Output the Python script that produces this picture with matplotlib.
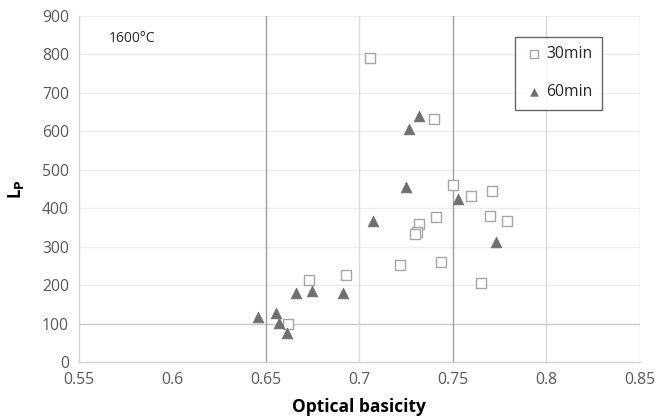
import matplotlib
matplotlib.use("Agg")
import matplotlib.pyplot as plt

plt.rcParams['font.family'] = ['Open Sans', 'DejaVu Sans']

x_30 = [0.706, 0.740, 0.750, 0.760, 0.771, 0.741, 0.732, 0.731, 0.730, 0.770, 0.779,
        0.722, 0.744, 0.765, 0.673, 0.693, 0.662]
y_30 = [790, 631, 460, 432, 444, 378, 360, 339, 332, 379, 366,
        252, 259, 206, 213, 226, 98]
x_60 = [0.732, 0.7265, 0.725, 0.753, 0.7075, 0.773, 0.6663, 0.6747, 0.6914,
        0.6462, 0.6558, 0.6572, 0.6615]
y_60 = [640, 606, 456, 425, 366, 311, 179, 185, 180, 116, 127, 102, 76]

xticks = [0.55, 0.6, 0.65, 0.7, 0.75, 0.8, 0.85]
xtick_labels = ['0.55', '0.6', '0.65', '0.7', '0.75', '0.8', '0.85']
yticks = [0, 100, 200, 300, 400, 500, 600, 700, 800, 900]

W, H = 665, 419
fig = plt.figure(figsize=(W / 100, H / 100), dpi=100)
ax = fig.add_axes([78.5 / W, (H - 362) / H, 561 / W, 346 / H])

ax.set_xlim(0.55, 0.85)
ax.set_ylim(0, 900)
ax.set_xticks(xticks)
ax.set_xticklabels(xtick_labels)
ax.set_yticks(yticks)

# gridlines
for yv in yticks[2:]:
    ax.axhline(yv, color='#ececec', lw=1, zorder=0)
ax.axhline(100, color='#c8c8c8', lw=1, zorder=0)
for xv, c in [(0.65, '#a0a0a0'), (0.7, '#dadada'), (0.75, '#a0a0a0'), (0.8, '#dadada'), (0.85, '#dadada')]:
    ax.axvline(xv, color=c, lw=1, zorder=0)

for s in ['top', 'right']:
    ax.spines[s].set_visible(False)
for s in ['left', 'bottom']:
    ax.spines[s].set_color('#d0d0d0')
    ax.spines[s].set_linewidth(1)

ax.tick_params(length=0, labelsize=11.3, colors='#595959')
ax.tick_params(axis='x', pad=7)
ax.tick_params(axis='y', pad=7)

ax.scatter(x_30, y_30, marker='s', s=55, facecolor='white', edgecolor='#a6a6a6',
           linewidth=1, label='30min', zorder=3)
ax.scatter(x_60, y_60, marker='^', s=60, facecolor='#6f6f6f', edgecolor='#6f6f6f',
           linewidth=0.5, label='60min', zorder=3)

ax.set_xlabel('Optical basicity', fontsize=12.5, fontweight='bold', color='black')
ax.xaxis.set_label_coords(0.5, -0.105)
ax.set_ylabel(r'L$_\mathbf{P}$', fontsize=12, fontweight='bold', color='black')
ax.yaxis.set_label_coords(-0.093, 0.5)

ax.text(0.054, 0.936, '1600°C', transform=ax.transAxes, fontsize=10, color='#262626',
        ha='left', va='center')

leg = ax.legend(loc='upper right', bbox_to_anchor=(602 / W, 1 - 37 / H),
                bbox_transform=fig.transFigure, frameon=True,
                fancybox=False, edgecolor='#404040', fontsize=11.3, handletextpad=0.1,
                borderpad=0.6, labelspacing=1.4, handlelength=1.3, markerscale=0.7,
                borderaxespad=0)
leg.get_frame().set_linewidth(1)
for t in leg.get_texts():
    t.set_color('#262626')

fig.savefig('out.png', dpi=100)
